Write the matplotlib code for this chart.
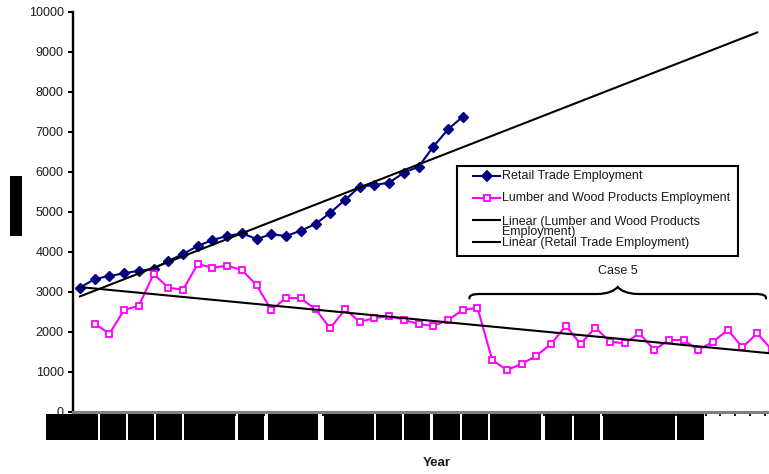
"""
Retail trade vs. lumber and wood products employment, with linear trends.
Writes out.png (769 x 474 px).
"""

import numpy as np
import matplotlib
matplotlib.use('Agg')
import matplotlib.pyplot as plt
from matplotlib.patches import Rectangle, PathPatch
from matplotlib.lines import Line2D
from matplotlib.path import Path

plt.rcParams['font.family'] = ['Liberation Sans', 'DejaVu Sans']

# ── Palette ──────────────────────────────────────────────────────────────────
NAVY      = '#000080'
MAGENTA   = '#ff00ff'
BLACK     = '#000000'
AXIS_GREY = '#808080'
WHITE     = '#ffffff'
TEXT      = '#1a1a1a'

W_PX, H_PX = 769, 474
DPI = 100

# ── Data (employment, one value per period) ──────────────────────────────────
n_periods = 48
retail = [3108, 3325, 3400, 3467, 3533, 3575, 3775, 3950, 4150, 4300,
          4400, 4467, 4325, 4442, 4400, 4533, 4700, 4983, 5300, 5633,
          5675, 5733, 5983, 6133, 6633, 7067, 7383]
lumber = [np.nan,
          2207, 1957, 2550, 2657, 3450, 3107, 3057, 3700, 3607, 3657,
          3550, 3167, 2550, 2857, 2842, 2567, 2092, 2567, 2257, 2342,
          2407, 2300, 2200, 2150, 2300, 2550, 2610, 1300, 1050, 1200,
          1408, 1700, 2158, 1700, 2108, 1758, 1717, 1967, 1550, 1800,
          1800, 1550, 1758, 2050, 1617, 1967, 1550]
y_ticks = list(range(0, 10001, 1000))

retail_label = 'Retail Trade Employment'
lumber_label = 'Lumber and Wood Products Employment'
brace_label  = 'Case 5'

periods = np.arange(n_periods)


def padded(values):
    out = np.full(n_periods, np.nan)
    out[:len(values)] = values
    return out


def linear_trend(values, x_end):
    """Least-squares line through the non-missing points, drawn 0..x_end."""
    y = np.asarray(values, float)
    x = np.arange(len(y))
    ok = ~np.isnan(y)
    slope, icpt = np.polyfit(x[ok], y[ok], 1)
    xs = np.array([0.0, x_end])
    return xs, icpt + slope * xs


def fx(px):
    return px / W_PX


def fy(py):
    return 1 - py / H_PX


# ── Figure / axes ────────────────────────────────────────────────────────────
fig = plt.figure(figsize=(W_PX / DPI, H_PX / DPI), dpi=DPI)
fig.patch.set_facecolor(WHITE)
ax = fig.add_axes([fx(72.6), fy(412), 1 - fx(72.6), 400 / H_PX])
ax.set_facecolor(WHITE)

# series
ax.plot(periods, padded(retail), color=NAVY, lw=1.5, marker='D', ms=5,
        mfc=NAVY, mec=NAVY, zorder=3)
ax.plot(periods, padded(lumber), color=MAGENTA, lw=1.5, marker='s', ms=4.6,
        mfc=WHITE, mec=MAGENTA, mew=1.3, zorder=3)

# trend lines (retail forecast 20 periods ahead)
tx, ty = linear_trend(lumber, n_periods - 1)
ax.plot(tx, ty, color=BLACK, lw=1.5, zorder=4)
tx, ty = linear_trend(retail, len(retail) - 1 + 20)
ax.plot(tx, ty, color=BLACK, lw=1.5, zorder=4)

# axes styling
for side in ('top', 'right'):
    ax.spines[side].set_visible(False)
ax.spines['left'].set_linewidth(1.7)
ax.spines['left'].set_color(BLACK)
ax.spines['bottom'].set_linewidth(2.2)
ax.spines['bottom'].set_color(AXIS_GREY)

ax.set_yticks(y_ticks)
ax.set_yticklabels([str(v) for v in y_ticks])
ax.tick_params(axis='y', direction='out', length=3.5, width=1.5,
               labelsize=9, labelcolor=TEXT, pad=3)
ax.set_xticks(np.arange(-0.5, n_periods, 1.0))
ax.set_xticklabels([])
ax.tick_params(axis='x', direction='out', length=3, width=1.3, color=BLACK)

# limits last: set_xticks would otherwise widen the view
ax.set_xlim(-0.5, 46.8)
ax.set_ylim(0, 10000)

# ── Brace over the last stretch of periods ───────────────────────────────────
bx0, bx1, by = 26.45, 46.6, 2950
rise, drop = 175, 110
end_w, mid_w = 0.75, 1.43
bxm = (bx0 + bx1) / 2
verts = [
    (bx0, by - drop),
    (bx0, by - drop * 0.3), (bx0 + 0.2, by), (bx0 + end_w, by),
    (bxm - mid_w, by),
    (bxm - mid_w * 0.45, by), (bxm - mid_w * 0.15, by + rise * 0.5), (bxm, by + rise),
    (bxm + mid_w * 0.15, by + rise * 0.5), (bxm + mid_w * 0.45, by), (bxm + mid_w, by),
    (bx1 - end_w, by),
    (bx1 - 0.2, by), (bx1, by - drop * 0.3), (bx1, by - drop),
]
codes = [Path.MOVETO,
         Path.CURVE4, Path.CURVE4, Path.CURVE4,
         Path.LINETO,
         Path.CURVE4, Path.CURVE4, Path.CURVE4,
         Path.CURVE4, Path.CURVE4, Path.CURVE4,
         Path.LINETO,
         Path.CURVE4, Path.CURVE4, Path.CURVE4]
ax.add_patch(PathPatch(Path(verts, codes), facecolor='none', edgecolor=BLACK,
                       lw=1.6, capstyle='round', zorder=4, clip_on=False))
ax.text(bxm, 3525, brace_label, ha='center', va='center', fontsize=9,
        color=TEXT)

# ── Legend (drawn by hand so the wrapped entry overlaps like the original) ──
fig.add_artist(Rectangle((fx(456.5), fy(256)), fx(738) - fx(456.5),
                         fy(166) - fy(256), transform=fig.transFigure,
                         facecolor=WHITE, edgecolor=BLACK, lw=1.5, zorder=5))


def legend_row(y_px, color, marker=None, mfc=None):
    fig.add_artist(Line2D([fx(473), fx(500)], [fy(y_px)] * 2,
                          transform=fig.transFigure, color=color, lw=1.5,
                          zorder=6))
    if marker:
        fig.add_artist(Line2D([fx(486.5)], [fy(y_px)], transform=fig.transFigure,
                              marker=marker, ms=5 if marker == 'D' else 4.2,
                              mfc=mfc, mec=color, mew=1.3, ls='none', zorder=7))


def legend_text(y_px, s):
    fig.text(fx(502), fy(y_px), s, ha='left', va='center', fontsize=9,
             color=TEXT, zorder=7)


legend_row(175.5, NAVY, 'D', NAVY)
legend_text(176, retail_label)
legend_row(197.5, MAGENTA, 's', WHITE)
legend_text(198, lumber_label)
legend_row(220, BLACK)
legend_text(222, 'Linear (Lumber and Wood Products')
legend_text(231.5, 'Employment)')
legend_row(241.5, BLACK)
legend_text(243, 'Linear (Retail Trade Employment)')

# ── Axis titles (labels below the axis are blacked out) ─────────────────────
fig.text(fx(437), fy(463), 'Year', ha='center', va='center', fontsize=9.5,
         fontweight='bold', color=TEXT)

blackout_spans = [(46, 98), (100, 126), (128, 154), (156, 182), (184, 235),
                  (238, 264), (268, 318), (324, 374), (376, 402), (404, 430),
                  (433, 460), (462, 488), (490, 541), (545, 572), (574, 600),
                  (603, 675), (677, 704)]
for x0, x1 in blackout_spans:
    fig.add_artist(Rectangle((fx(x0), fy(439.5)), fx(x1) - fx(x0),
                             fy(413.5) - fy(439.5), transform=fig.transFigure,
                             facecolor=BLACK, edgecolor='none', zorder=8))
# y-axis title box
fig.add_artist(Rectangle((fx(10), fy(236)), fx(22) - fx(10), fy(176) - fy(236),
                         transform=fig.transFigure, facecolor=BLACK,
                         edgecolor='none', zorder=8))

fig.savefig('out.png', dpi=DPI, facecolor=WHITE)
